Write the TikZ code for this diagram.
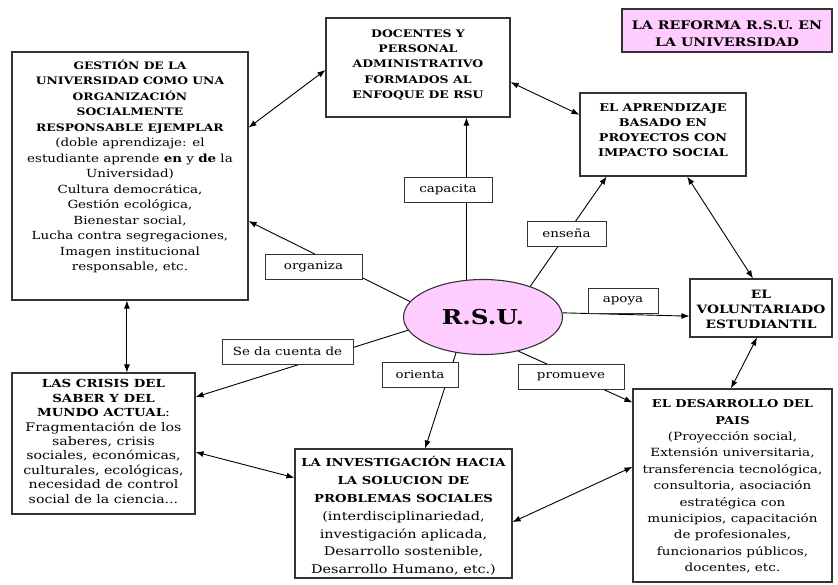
\documentclass[tikz,border=0pt]{standalone}
\usepackage{fontspec}
\setmainfont{DejaVu Serif}[FakeStretch=1.2]
\usetikzlibrary{calc,arrows.meta,shapes.geometric}
\definecolor{pinkfill}{HTML}{FFCCFF}
\definecolor{edge}{HTML}{333333}
\newcommand\hb[1]{{\fontsize{\hbsize}{15}\selectfont\bfseries #1}}
\def\hbsize{10.5}
\begin{document}
\begin{tikzpicture}[x=1pt,y=-1pt,
  box/.style={draw=edge,line width=1.1pt,fill=white,inner sep=0pt,rectangle},
  txt/.style={align=center,inner sep=0pt,anchor=north},
  lbl/.style={draw=edge,line width=0.8pt,fill=white,inner sep=0pt,minimum height=25pt,font=\fontsize{11.2}{13}\selectfont},
  conn/.style={line width=0.9pt,draw=black},
  arr/.style={conn,-{Latex[length=8pt,width=6pt]}},
  darr/.style={conn,{Latex[length=8pt,width=6pt]}-{Latex[length=8pt,width=6pt]}}]
\useasboundingbox (0,0) rectangle (838,584);
% boxes
\node[box,minimum width=236pt,minimum height=248pt] (gestion) at (130,176) {};
\node[box,minimum width=184pt,minimum height=99pt] (docentes) at (418,67.5) {};
\node[box,minimum width=166pt,minimum height=83pt] (aprend) at (663,134.5) {};
\node[box,fill=pinkfill,minimum width=210pt,minimum height=43pt] (title) at (727,30.5) {};
\node[box,minimum width=183pt,minimum height=141pt] (crisis) at (103.5,443.5) {};
\node[box,minimum width=217pt,minimum height=129pt] (invest) at (403.5,513.5) {};
\node[box,minimum width=199pt,minimum height=193pt] (desarr) at (732.5,485.5) {};
\node[box,minimum width=142pt,minimum height=58pt] (volunt) at (761,308) {};
\node[ellipse,draw=edge,fill=pinkfill,line width=1.1pt,minimum width=159pt,minimum height=75pt,inner sep=0pt,font=\fontsize{20.5}{22}\selectfont\bfseries] (rsu) at (483,317) {R.S.U.};
% texts
\node[txt,font=\fontsize{11.2}{15.5}\selectfont\def\hbsize{10.3}] (gestiontxt) at ([yshift=-8pt]gestion.north) {\hb{GESTIÓN DE LA}\\\hb{UNIVERSIDAD COMO UNA}\\\hb{ORGANIZACIÓN}\\\hb{SOCIALMENTE}\\\hb{RESPONSABLE EJEMPLAR}\\(doble aprendizaje: el\\estudiante aprende \textbf{en} y \textbf{de} la\\Universidad)\\Cultura democrática,\\Gestión ecológica,\\Bienestar social,\\Lucha contra segregaciones,\\Imagen institucional\\responsable, etc.};
\node[txt,font=\fontsize{11}{15.3}\selectfont\def\hbsize{10.4}] (docentestxt) at ([yshift=-12pt]docentes.north) {\hb{DOCENTES Y}\\\hb{PERSONAL}\\\hb{ADMINISTRATIVO}\\\hb{FORMADOS AL}\\\hb{ENFOQUE DE RSU}};
\node[txt,font=\fontsize{11}{15}\selectfont\def\hbsize{10.7}] (aprendtxt) at ([yshift=-11pt]aprend.north) {\hb{EL APRENDIZAJE}\\\hb{BASADO EN}\\\hb{PROYECTOS CON}\\\hb{IMPACTO SOCIAL}};
\node[txt,font=\fontsize{12}{17.5}\selectfont\def\hbsize{11.8}] (titletxt) at ([yshift=-12pt]title.north) {\hb{LA REFORMA R.S.U. EN}\\\hb{LA UNIVERSIDAD}};
\node[txt,font=\fontsize{11.8}{14.4}\selectfont\def\hbsize{11.1}] (crisistxt) at ([yshift=-7pt]crisis.north) {\hb{LAS CRISIS DEL}\\\hb{SABER Y DEL}\\\hb{MUNDO ACTUAL}:\\Fragmentación de los\\saberes, crisis\\sociales, económicas,\\culturales, ecológicas,\\necesidad de control\\social de la ciencia...};
\node[txt,font=\fontsize{12}{17.8}\selectfont\def\hbsize{11}] (investtxt) at ([yshift=-8pt]invest.north) {\hb{LA INVESTIGACIÓN HACIA}\\\hb{LA SOLUCION DE}\\\hb{PROBLEMAS SOCIALES}\\(interdisciplinariedad,\\investigación aplicada,\\Desarrollo sostenible,\\Desarrollo Humano, etc.)};
\node[txt,font=\fontsize{11.3}{16.4}\selectfont\def\hbsize{10.8}] (desarrtxt) at ([yshift=-11pt]desarr.north) {\hb{EL DESARROLLO DEL}\\\hb{PAIS}\\(Proyección social,\\Extensión universitaria,\\transferencia tecnológica,\\consultoria, asociación\\estratégica con\\municipios, capacitación\\de profesionales,\\funcionarios públicos,\\docentes, etc.};
\node[txt,font=\fontsize{11}{15}\selectfont\def\hbsize{11.5}] (volunttxt) at ([yshift=-11pt]volunt.north) {\hb{EL}\\\hb{VOLUNTARIADO}\\\hb{ESTUDIANTIL}};
% spokes from R.S.U.
\draw[arr] (rsu.114) -- (rsu.114 |- docentes.south);
\draw[arr] (rsu.33) -- ($(aprend.south west)!0.163!(aprend.south east)$);
\draw[arr] (rsu.3) -- ($(volunt.north west)!0.638!(volunt.south west)$);
\draw[arr] (rsu.168) -- ($(gestion.north east)!0.681!(gestion.south east)$);
\draw[arr] (rsu.190) -- ($(crisis.north east)!0.173!(crisis.south east)$);
\draw[arr] (rsu.233) -- ($(invest.north west)!0.599!(invest.north east)$);
\draw[arr] (rsu.316) -- ($(desarr.north west)!0.0725!(desarr.south west)$);
% two-way links
\coordinate (gc) at ($(gestion.south west)!0.487!(gestion.south east)$);
\draw[darr] ($(gestion.north east)!0.306!(gestion.south east)$) -- ($(docentes.north west)!0.525!(docentes.south west)$);
\draw[darr] ($(docentes.north east)!0.646!(docentes.south east)$) -- ($(aprend.north west)!0.265!(aprend.south west)$);
\draw[darr] ($(aprend.south west)!0.645!(aprend.south east)$) -- ($(volunt.north west)!0.444!(volunt.north east)$);
\draw[darr] ($(volunt.south west)!0.472!(volunt.south east)$) -- ($(desarr.north west)!0.492!(desarr.north east)$);
\draw[darr] (gc) -- (gc |- crisis.north);
\draw[darr] ($(crisis.north east)!0.56!(crisis.south east)$) -- ($(invest.north west)!0.225!(invest.south west)$);
\draw[darr] ($(invest.north east)!0.566!(invest.south east)$) -- ($(desarr.north west)!0.404!(desarr.south west)$);
% labels
\node[lbl,minimum width=88pt] (capacita) at (448,190) {capacita};
\node[lbl,minimum width=79pt] (ensena) at (566.5,233.5) {enseña};
\node[lbl,minimum width=70pt] (apoya) at (623,300.5) {apoya};
\node[lbl,minimum width=97pt] (organiza) at (313.5,266.5) {organiza};
\node[lbl,minimum width=131pt] (secuenta) at (287.5,351.5) {Se da cuenta de};
\node[lbl,minimum width=76pt] (orienta) at (420,374.5) {orienta};
\node[lbl,minimum width=106pt] (promueve) at (571,377) {promueve};
\end{tikzpicture}
\end{document}
